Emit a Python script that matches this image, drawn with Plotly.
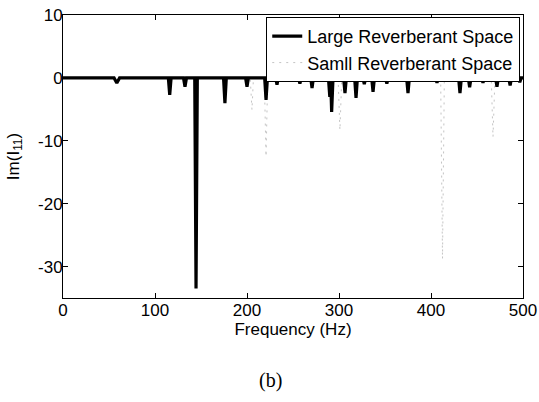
import plotly.graph_objects as go

# frequencia (Hz) e Im(I11) - sala reverberante grande
FREQ_GRANDE = [
    0, 20, 40, 55.5, 58.5, 61.5, 80, 100, 114.5, 116, 117.5, 131, 132.6, 134.2,
    143.2, 144.6, 146, 160, 174.5, 176, 177.5, 198.5, 200, 201.5, 219.2, 220.7,
    222.2, 231.2, 232.6, 234, 245, 256, 257.5, 259, 269.2, 270.7, 272.2, 280,
    288.5, 290, 291, 292, 293.5, 300, 305, 306.5, 308, 312, 317, 318.5, 320,
    326, 327.5, 329, 335.5, 337, 338.5, 350.5, 352, 353.5, 360, 373.5, 375,
    376.5, 390, 405, 406.5, 408, 420, 430, 431.5, 433, 440.5, 442, 443.5,
    455, 456.5, 458, 470.2, 471.7, 473.2, 484.5, 486, 487.5, 495, 496.5, 498, 500,
]
IM_GRANDE = [
    0, 0, 0, 0, -0.8, 0, 0, 0, 0, -2.7, 0, 0, -1.4, 0,
    0, -33.5, 0, 0, 0, -4.0, 0, 0, -1.4, 0, 0, -3.5,
    0, 0, -1.1, 0, 0, 0, -0.9, 0, 0, -1.6, 0, 0,
    0, -3.0, -0.5, -5.4, 0, 0, 0, -2.4, 0, -0.4, 0, -3.2, 0,
    0, -1.0, 0, 0, -2.2, 0, 0, -0.9, 0, 0, 0, -2.4,
    0, 0, 0, -0.8, 0, 0, 0, -2.4, 0, 0, -1.5, 0,
    0, -0.8, 0, 0, -1.4, 0, 0, -1.2, 0, 0, -0.7, 0, 0,
]

# sala reverberante pequena
FREQ_PEQUENA = [
    0, 203.5, 205.4, 207, 218.8, 220.7, 222.5, 299, 301, 303,
    410.5, 412.5, 414.5, 465.5, 467.4, 469.5, 500,
]
IM_PEQUENA = [
    0, 0, -5.1, 0, 0, -12.5, 0, 0, -8.3, 0,
    0, -28.8, 0, 0, -9.4, 0, 0,
]

Y_TICKS = [-30, -20, -10, 0, 10]
Y_ROTULOS = ["-30", "-20", "-10", "0", "10"]
X_TICKS = [0, 100, 200, 300, 400, 500]

FONTE = "Liberation Sans, Arial, sans-serif"

fig = go.Figure()

# a pequena vai primeiro para ficar por baixo da linha preta
fig.add_trace(
    go.Scatter(
        x=FREQ_PEQUENA,
        y=IM_PEQUENA,
        mode="lines",
        name="Samll Reverberant Space",
        line=dict(color="#c4c4c4", width=1, dash="2px,5px"),
    )
)

fig.add_trace(
    go.Scatter(
        x=FREQ_GRANDE,
        y=IM_GRANDE,
        mode="lines",
        name="Large Reverberant Space",
        line=dict(color="#000000", width=3.2),
    )
)

fig.update_layout(
    width=539,
    height=402,
    template="simple_white",
    paper_bgcolor="#ffffff",
    plot_bgcolor="#ffffff",
    font=dict(family=FONTE, size=16, color="#000000"),
    margin=dict(l=63, r=16, t=15, b=104),
    showlegend=True,
    legend=dict(
        x=0.994,
        y=0.993,
        xanchor="right",
        yanchor="top",
        traceorder="reversed",
        bordercolor="#000000",
        borderwidth=1,
        bgcolor="#ffffff",
        font=dict(family=FONTE, size=18, color="#000000"),
        tracegroupgap=0,
        itemwidth=30,
    ),
    annotations=[
        dict(
            text="(b)",
            x=0.45,
            y=-0.29,
            xref="paper",
            yref="paper",
            yanchor="middle",
            showarrow=False,
            font=dict(family="Liberation Serif, Times New Roman, serif", size=20, color="#000000"),
        )
    ],
)

fig.update_xaxes(
    range=[0, 500],
    tickvals=X_TICKS,
    ticks="inside",
    ticklen=5,
    tickcolor="#000000",
    ticklabelstandoff=-3,
    ticklabeloverflow="allow",
    showline=True,
    linecolor="#000000",
    linewidth=1,
    mirror="ticks",
    showgrid=False,
    zeroline=False,
    automargin=False,
    title=dict(text="Frequency (Hz)", font=dict(size=17), standoff=0),
    tickfont=dict(size=17),
)

fig.update_yaxes(
    range=[-35, 10],
    tickvals=Y_TICKS,
    ticktext=Y_ROTULOS,
    ticks="inside",
    ticklen=5,
    tickcolor="#000000",
    ticklabelstandoff=-4,
    ticklabeloverflow="allow",
    showline=True,
    linecolor="#000000",
    linewidth=1,
    mirror="ticks",
    showgrid=False,
    zeroline=False,
    automargin=False,
    title=dict(text="Im(I<sub>11</sub>)", font=dict(size=17), standoff=14),
    tickfont=dict(size=17),
)

# tira a margem do body para a figura comecar no canto da janela
fig.write_html(
    "out.html",
    config={"displayModeBar": False},
    post_script="document.body.style.margin='0';",
)
